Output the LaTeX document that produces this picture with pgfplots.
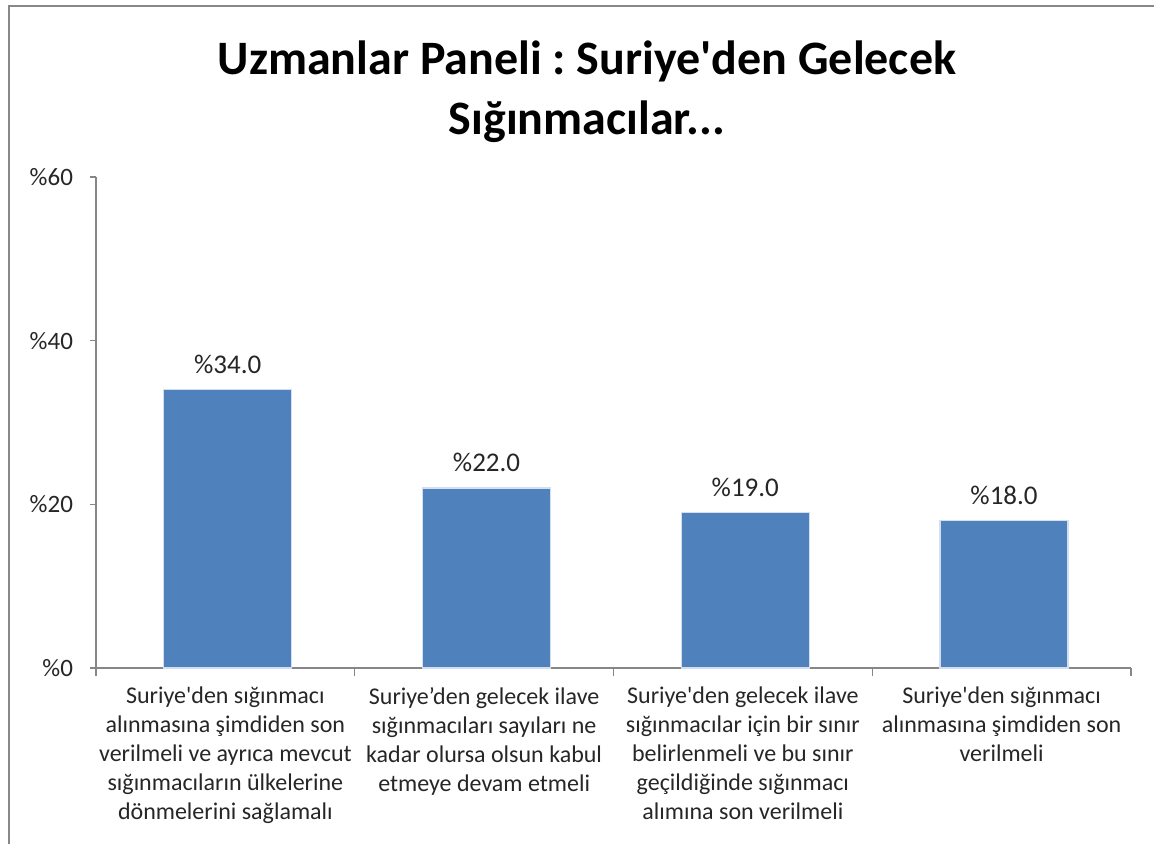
\documentclass[border=0pt]{standalone}
\usepackage{fontspec}
\setmainfont{Carlito}[Ligatures=TeXOff]
\usepackage{pgfplots}
\pgfplotsset{compat=1.18}
\usetikzlibrary{calc}
\definecolor{barblue}{HTML}{4F81BD}
\definecolor{axgray}{HTML}{868686}
\definecolor{framegray}{HTML}{888888}
\frenchspacing
\begin{document}
\begin{tikzpicture}
  \begin{axis}[
      name=ax,
      scale only axis,
      width=517.5pt, height=245.5pt,
      xmin=-0.5, xmax=3.5,
      ymin=0, ymax=60,
      axis x line*=bottom,
      axis y line*=left,
      axis line style={axgray, line width=0.6pt},
      ybar, bar width=64pt, bar shift=1.2pt,
      xtick={0,1,2,3},
      xticklabels={
        {Suriye'den sığınmacı\\alınmasına şimdiden son\\verilmeli ve ayrıca mevcut\\sığınmacıların ülkelerine\\dönmelerini sağlamalı},
        {Suriye’den gelecek ilave\\sığınmacıları sayıları ne\\kadar olursa olsun kabul\\etmeye devam etmeli},
        {Suriye'den gelecek ilave\\sığınmacılar için bir sınır\\belirlenmeli ve bu sınır\\geçildiğinde sığınmacı\\alımına son verilmeli},
        {Suriye'den sığınmacı\\alınmasına şimdiden son\\verilmeli}},
      xticklabel style={align=center, font=\fontsize{12}{14.5}\selectfont, yshift=-3pt, text=black!85},
      major x tick style={draw=none},
      minor xtick={-0.5,0.5,1.5,2.5,3.5},
      minor x tick style={axgray, line width=0.6pt},
      minor tick length=4pt,
      ytick={0,20,40,60},
      yticklabel={\%\pgfmathprintnumber{\tick}},
      yticklabel style={font=\fontsize{12.5}{15}\selectfont, text=black!85, xshift=-5pt},
      y tick style={axgray, line width=0.6pt},
      major tick length=3pt,
      tick align=outside,
      /pgf/number format/assume math mode=true,
      nodes near coords={\%\pgfmathprintnumber[fixed,fixed zerofill,precision=1]{\pgfplotspointmeta}},
      nodes near coords style={font=\fontsize{13.5}{16}\selectfont, text=black!85, yshift=4.5pt},
      clip=false,
    ]
    \addplot[fill=barblue, draw=white!75!barblue, line width=0.6pt]
      coordinates {(0,34) (1,22) (2,19) (3,18)};
  \end{axis}
  % page area: axis corner lies 48pt from the left, 87.5pt from the bottom
  \coordinate (O) at ($(ax.south west)+(-48pt,-87.5pt)$);
  \pgfresetboundingbox
  \useasboundingbox (O) rectangle ($(O)+(577pt,421.5pt)$);
  % chart frame (only top and left edges are in view)
  \draw[framegray, line width=1.3pt]
    ($(O)+(4.5pt,-2pt)$) -- ($(O)+(4.5pt,418.5pt)$) -- ($(O)+(580pt,418.5pt)$);
  \node[font=\bfseries\fontsize{24}{30}\selectfont, align=center]
    at ($(O)+(293.5pt,375.5pt)$)
    {Uzmanlar Paneli : Suriye'den Gelecek\\Sığınmacılar...};
\end{tikzpicture}
\end{document}
